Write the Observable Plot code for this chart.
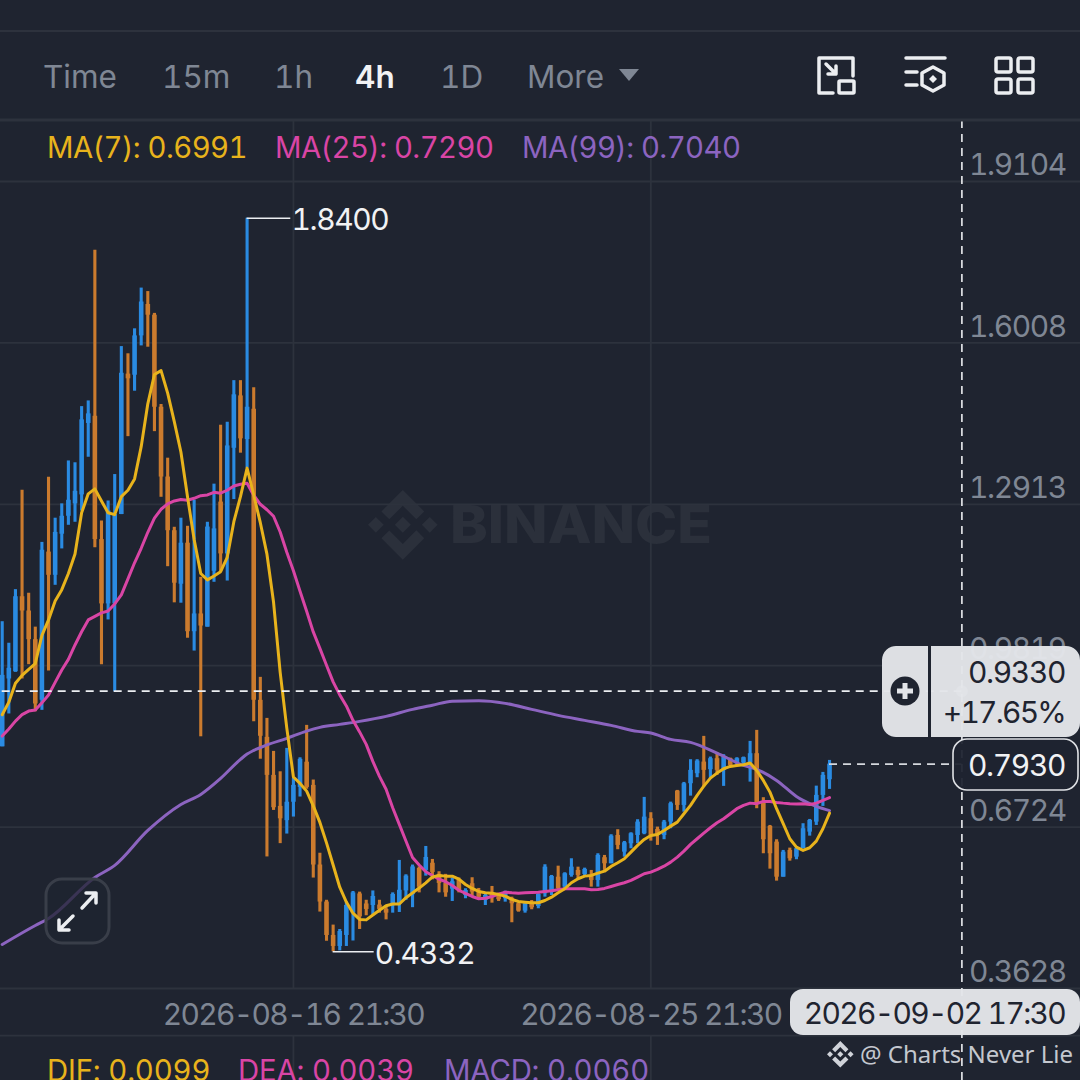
<!DOCTYPE html>
<html><head><meta charset="utf-8">
<script src="https://cdn.jsdelivr.net/npm/d3@7"></script>
<script src="https://cdn.jsdelivr.net/npm/@observablehq/plot@0.6"></script>
<style>
html,body{margin:0;padding:0;background:#1f2430;overflow:hidden}
#stage{position:relative;width:1080px;height:1080px;overflow:hidden;font-family:Inter,sans-serif}
#back,#chart,#front{position:absolute;left:0;top:0}
#chart svg{background:transparent;display:block}
text{font-family:Inter,sans-serif;font-variant-numeric:tabular-nums}
.ytick text{letter-spacing:-1.4px}
.xtick text{letter-spacing:-1.7px}
.hilabel text{letter-spacing:-1.4px}
.lolabel text{letter-spacing:-.9px}
</style></head><body>
<div id="stage">
<svg id="back" width="1080" height="1080">
 <defs><g id="bnb">
  <polygon points="38.73 53.2 63.3 28.64 87.88 53.22 102.18 38.93 63.3 0 24.43 38.9"/>
  <polygon points="0 63.3 14.3 49 28.6 63.3 14.3 77.6"/>
  <polygon points="38.73 73.41 63.3 97.97 87.88 73.39 102.18 87.69 63.3 126.61 24.43 87.71"/>
  <polygon points="97.99 63.3 112.3 49 126.6 63.3 112.3 77.6"/>
  <polygon points="77.83 63.3 63.3 48.77 48.79 63.3 63.3 77.83"/>
 </g></defs>
 <use href="#bnb" fill="#2b303b" transform="translate(368,490) scale(.55)"/>
 <text x="450" y="543" font-size="52" font-weight="800" fill="#2b303b" textLength="262" lengthAdjust="spacingAndGlyphs">BINANCE</text>
</svg>
<div id="chart"></div>
<svg id="front" width="1080" height="1080">
 <rect x="0" y="0" width="1080" height="120" fill="#1f2430"/>
 <line x1="0" x2="1080" y1="31" y2="31" stroke="#2d323d" stroke-width="2"/>
 <line x1="0" x2="1080" y1="120" y2="120" stroke="#2d323d" stroke-width="3"/>
 <g font-size="31.5" fill="#7f8794">
  <text x="43" y="88">Time</text><text x="162" y="88">15m</text><text x="274" y="88">1h</text>
  <text x="355" y="88" fill="#f1f2f4" font-weight="600">4h</text><text x="440" y="88">1D</text><text x="527" y="88">More</text>
 </g>
 <polygon points="619,69 639,69 629,81" fill="#7f8794"/>
 <g fill="none" stroke="#eceef1" stroke-width="3.5" stroke-linecap="round" stroke-linejoin="round">
  <path d="M833 93H819V58H853V76"/><rect x="839" y="81" width="15" height="12" rx="1"/>
  <path d="M826 64L836 74M836 66V74H828"/>
  <path d="M906 58H945M906 72H917M906 85H917"/><path d="M933 67L944 73V85L933 91L922 85V73Z"/>
  <rect x="996" y="58" width="15" height="14" rx="2"/><rect x="1018" y="58" width="15" height="14" rx="2"/>
  <rect x="996" y="79" width="15" height="14" rx="2"/><rect x="1018" y="79" width="15" height="14" rx="2"/>
 </g>
 <polygon points="933,75 937,79 933,83 929,79" fill="#eceef1"/>
 <g font-size="29.3">
  <g style="letter-spacing:-.55px">
  <text x="47" y="158" fill="#e8b31c">MA(7): 0.6991</text>
  <text x="275" y="158" fill="#d945a5">MA(25): 0.7290</text>
  <text x="522" y="158" fill="#8c64c0">MA(99): 0.7040</text>
  </g>
  <g style="letter-spacing:-.15px">
  <text x="47" y="1081" fill="#e8b31c">DIF: 0.0099</text>
  <text x="238" y="1081" fill="#d945a5">DEA: 0.0039</text>
  <text x="444" y="1081" fill="#8c64c0">MACD: 0.0060</text>
  </g>
 </g>
 <rect x="46" y="879" width="63" height="64" rx="16" fill="#1f2430" fill-opacity=".75" stroke="#393e49" stroke-width="3"/>
 <g fill="none" stroke="#eceef1" stroke-width="3.5" stroke-linecap="round" stroke-linejoin="round">
  <path d="M82 908L96 893M86 893H96V903"/><path d="M73 916L59 930M59 920V930H69"/>
 </g>
 <path d="M897 646H1066A14 14 0 0 1 1080 660V723A14 14 0 0 1 1066 737H897A14 14 0 0 1 882 723V660A14 14 0 0 1 897 646Z" fill="#e3e5e9" fill-opacity=".97"/>
 <rect x="928" y="646" width="3" height="91" fill="#1f2430"/>
 <circle cx="905" cy="691" r="14.5" fill="#1f2430"/>
 <path d="M905 683V699M897 691H913" stroke="#e3e5e9" stroke-width="5"/>
 <g font-size="30" fill="#1f2430" text-anchor="end">
  <text x="1065" y="683" style="letter-spacing:-1.4px">0.9330</text><text x="1065" y="723" style="letter-spacing:-1.8px">+17.65%</text>
 </g>
 <rect x="953" y="739" width="125" height="51" rx="14" fill="#1f2430" fill-opacity=".95" stroke="#dfe1e5" stroke-width="1.6"/>
 <text x="1065" y="776" font-size="30" fill="#f1f2f4" text-anchor="end" style="letter-spacing:-1.4px">0.7930</text>
 <rect x="790" y="989" width="290" height="46" rx="13" fill="#e3e5e9" fill-opacity=".97"/>
 <text x="1065" y="1024" font-size="30" fill="#1f2430" text-anchor="end" style="letter-spacing:-1.7px">2026-09-02 17:30</text>
 <use href="#bnb" fill="#d0d3d9" transform="translate(827,1041) scale(.21)"/>
 <text x="860" y="1063" font-size="24" fill="#c4c8cf" style="font-family:'Noto Sans'">@ Charts Never Lie</text>
</svg>
</div>
<script>
const open_ = [.8263,.9564,.9702,1.1141,1.0867,1.0318,.9154,1.1997,1.1552,1.2340,1.2684,1.2922,1.3094,1.4464,1.4602,1.2237,1.1003,1.1003,1.2716,1.5410,1.5389,1.6143,1.6745,1.6540,1.4775,1.3436,1.2407,1.1381,1.2168,1.0470,1.0811,1.0558,1.1629,1.2956,1.1962,1.3988,1.4992,1.4155,1.4737,.9154,.8444,.7715,.7120,.6847,.7200,.7484,.7968,.7523,.5996,.5286,.4645,.4434,.4645,.5073,.5441,.5249,.5220,.5228,.5144,.5215,.5249,.5499,.5428,.5930,.5892,.6030,.5817,.5643,.5533,.5712,.5412,.5637,.5476,.5316,.5456,.5393,.5349,.5349,.5253,.5111,.5253,.5201,.5445,.5476,.5763,.5572,.5796,.5892,.5815,.5796,.5700,.6136,.6020,.6563,.6243,.6404,.6563,.6596,.6884,.6679,.6563,.6819,.7413,.7139,.7555,.7747,.7970,.7824,.8035,.7811,.8035,.7939,.7951,.7951,.8131,.7202,.6736,.6435,.5763,.6276,.6147,.6308,.6627,.6819,.7331,.7632];
const close_ = [.9633,.9769,1.1141,1.0867,1.0318,.9084,1.2031,1.1552,1.2375,1.2684,1.2991,1.3163,1.4533,1.4648,1.2237,1.1003,1.2785,1.2716,1.5429,1.5320,1.6143,1.6793,1.6540,1.4775,1.3436,1.2407,1.1400,1.2168,1.0470,1.0811,1.0579,1.2477,1.2442,1.1962,1.4033,1.5013,1.4169,1.4775,.9154,.8465,.7715,.7095,.6882,.7200,.7523,.8022,.7484,.5996,.5286,.4645,.4434,.4722,.5220,.5462,.5002,.5144,.5393,.5144,.5073,.5431,.5512,.5783,.5959,.5570,.6141,.5854,.5643,.5462,.5675,.5499,.5508,.5476,.5380,.5412,.5393,.5330,.5476,.5253,.5111,.5253,.5176,.5431,.5955,.5777,.5541,.5829,.5955,.5796,.5911,.5700,.6180,.6020,.6550,.6372,.6423,.6596,.6819,.6915,.6563,.6563,.6819,.7172,.7139,.7555,.7811,.7989,.7811,.8035,.7811,.8066,.7906,.8035,.8054,.8131,.7172,.6481,.6212,.5763,.6243,.6116,.6308,.6692,.6851,.7331,.7715,.7930];
const high_ = [1.0662,1.0249,1.1277,1.3183,1.1208,1.0558,1.2183,1.3430,1.2647,1.2922,1.3745,1.3710,1.4787,1.4896,1.7787,1.2594,1.2977,1.3484,1.5938,1.5800,1.6279,1.7060,1.6993,1.6575,1.4827,1.3798,1.2473,1.2647,1.2492,1.2991,1.1513,1.2569,1.3300,1.4430,1.4487,1.5285,1.5285,1.8400,1.5149,.9595,.8808,.8175,.7784,.8233,.7663,.8052,.8674,.7626,.6222,.5320,.4844,.4760,.5286,.5489,.5476,.5320,.5499,.5320,.5220,.5462,.6084,.5809,.5996,.5959,.6352,.6103,.5867,.5817,.5746,.5746,.5541,.5752,.5547,.5445,.5585,.5456,.5495,.5380,.5265,.5284,.5316,.5445,.6001,.5796,.5974,.5848,.6116,.5955,.5936,.5892,.6212,.6180,.6577,.6673,.6448,.6615,.6865,.7293,.6999,.6723,.6851,.7202,.7427,.7580,.8016,.8016,.8463,.8066,.8142,.8112,.8046,.8054,.8066,.8367,.8578,.7287,.6755,.6481,.6276,.6320,.6352,.6788,.6870,.7509,.7772,.8002];
const low_ = [.8263,.8893,.9691,.9564,.9838,.8935,.8962,.9716,1.1360,1.2058,1.2511,1.2569,1.2785,1.3816,1.2079,.9838,1.0696,.9319,1.2716,1.4211,1.5082,1.5951,1.5926,1.4307,1.3048,1.1717,1.1024,1.1017,1.0345,1.0099,.8455,1.0558,1.1418,1.1621,1.1442,1.3004,1.3894,1.3605,.8743,.8025,.6151,.7043,.6406,.6590,.6916,.7300,.7450,.5746,.5094,.4534,.4332,.4350,.4434,.4539,.4760,.5023,.5036,.5073,.4944,.5073,.5086,.5320,.5178,.5462,.5783,.5712,.5462,.5378,.5297,.5462,.5349,.5380,.5316,.5220,.5265,.5297,.5284,.4889,.5092,.5073,.5138,.5157,.5380,.5412,.5508,.5508,.5763,.5733,.5763,.5572,.5572,.5892,.6020,.6289,.6147,.6308,.6404,.6577,.6454,.6372,.6481,.6692,.7043,.7010,.7317,.7670,.7490,.7651,.7715,.7504,.7874,.7906,.7906,.7586,.7076,.6212,.5917,.5687,.5763,.6070,.6097,.6308,.6550,.6755,.7120,.7446];
const ma7 = [.8879,.9119,.9482,.9633,.9748,.9860,1.0401,1.0696,1.1059,1.1277,1.1586,1.1962,1.2751,1.3114,1.3210,1.2977,1.2751,1.2716,1.3060,1.3183,1.3401,1.4019,1.4840,1.5402,1.5477,1.5046,1.4499,1.3916,1.3060,1.2237,1.1586,1.1464,1.1538,1.1621,1.1897,1.2580,1.3060,1.3607,1.3092,1.2561,1.1957,1.1034,.9691,.8620,.7684,.7561,.7413,.7131,.6813,.6420,.5996,.5570,.5286,.5073,.4952,.4944,.5036,.5128,.5215,.5249,.5249,.5370,.5462,.5554,.5654,.5767,.5796,.5783,.5783,.5725,.5623,.5547,.5489,.5464,.5456,.5431,.5399,.5336,.5297,.5284,.5272,.5272,.5316,.5380,.5464,.5541,.5656,.5733,.5783,.5796,.5840,.5878,.5969,.6040,.6116,.6243,.6372,.6487,.6563,.6583,.6659,.6742,.6819,.6980,.7139,.7331,.7509,.7663,.7759,.7843,.7887,.7906,.7920,.7951,.7811,.7619,.7394,.7076,.6788,.6500,.6339,.6276,.6327,.6454,.6692,.6991];
const ma25 = [.8469,.8605,.8756,.8879,.8948,.8969,.9106,.9257,.9499,.9737,.9940,1.0216,1.0470,1.0696,1.0765,1.0832,1.0867,1.1003,1.1176,1.1483,1.1792,1.2070,1.2377,1.2647,1.2818,1.2922,1.2977,1.3004,1.2991,1.3029,1.3079,1.3094,1.3144,1.3127,1.3183,1.3265,1.3298,1.3319,1.3087,1.2914,1.2809,1.2684,1.2383,1.1993,1.1638,1.1247,1.0861,1.0466,1.0151,.9827,.9508,.9259,.9046,.8770,.8549,.8309,.7983,.7697,.7450,.7095,.6775,.6456,.6141,.5996,.5867,.5796,.5725,.5675,.5604,.5512,.5451,.5393,.5349,.5360,.5393,.5437,.5476,.5464,.5456,.5464,.5470,.5476,.5489,.5502,.5522,.5541,.5541,.5541,.5541,.5522,.5527,.5547,.5585,.5623,.5656,.5700,.5763,.5829,.5859,.5911,.5974,.6051,.6147,.6262,.6391,.6500,.6608,.6711,.6807,.6884,.6980,.7076,.7139,.7183,.7172,.7216,.7216,.7197,.7183,.7172,.7164,.7172,.7158,.7183,.7235,.7290];
const ma99Index = [0,5,7,14,17,22,27,30,33,36,37,38,40,43,46,48,51,54,58,62,65,68,72,76,80,84,88,92,96,98,101,104,108,112,114,117,120,121,123,125];
const ma99 = [.4472,.4837,.4971,.5758,.5988,.6659,.7158,.7350,.7657,.8022,.8123,.8194,.8300,.8425,.8565,.8636,.8693,.8751,.8847,.8981,.9061,.9138,.9144,.9096,.8981,.8866,.8770,.8674,.8559,.8526,.8405,.8348,.8142,.7906,.7830,.7619,.7312,.7235,.7120,.7040];
const yTicks = [1.9104,1.6008,1.2913,.9819,.6724,.3628];
const xTickIndex = [44,98];
const xTickLabels = ["2026-08-16 21:30","2026-08-25 21:30"];
const crossIndex = 145, crossPrice = .9330, lastPrice = .7930;
const hiPoint = {i:37, label:"1.8400", price:1.84}, loPoint = {i:50, label:"0.4332", price:.4332};

const UP = "#2a8be2", DOWN = "#cb7b2e", GRID = "#2d323d";
const idx = open_.map((_, i) => i);
const colour = i => close_[i] >= open_[i] ? UP : DOWN;

const chart = Plot.plot({
  width: 1080, height: 1080, margin: 0,
  style: {background: "transparent", fontFamily: "Inter, sans-serif"},
  x: {type: "linear", domain: [0, 145], range: [1.7, 961.4], axis: null},
  y: {type: "linear", domain: [.3628, 1.9104], range: [988, 181], axis: null},
  marks: [
    Plot.ruleY([...yTicks, .2726], {stroke: GRID, strokeWidth: 1.8}),
    Plot.ruleX(xTickIndex, {y1: .3628, y2: 2.03, stroke: GRID, strokeWidth: 1.8}),
    Plot.ruleX(xTickIndex, {y1: .2726, y2: .18, stroke: GRID, strokeWidth: 1.8}),
    Plot.text(yTicks, {className: "ytick", x: () => 145, y: d => d, text: d => d.toFixed(4), dx: 104, dy: -16, textAnchor: "end", fontSize: 30, fill: "#7f8794"}),
    Plot.text(xTickIndex, {className: "xtick", x: d => d, y: () => .3103, text: (d, i) => xTickLabels[i], fontSize: 30, fill: "#7f8794"}),
    Plot.ruleX(idx, {x: d => d, y1: i => low_[i], y2: i => high_[i], stroke: colour, strokeWidth: 3.1}),
    Plot.ruleX(idx, {x: d => d, y1: i => open_[i], y2: i => close_[i], stroke: colour, strokeWidth: 4.6}),
    Plot.line(ma99, {x: (d, i) => ma99Index[i], y: d => d, stroke: "#8c64c0", strokeWidth: 3, curve: "monotone-x"}),
    Plot.line(ma25, {x: (d, i) => i, y: d => d, stroke: "#d945a5", strokeWidth: 3}),
    Plot.line(ma7, {x: (d, i) => i, y: d => d, stroke: "#e8b31c", strokeWidth: 3}),
    Plot.ruleY([hiPoint], {x1: d => d.i, x2: () => 43.6, y: d => d.price, stroke: "#eceef1", strokeWidth: 1.6}),
    Plot.text([hiPoint], {className: "hilabel", x: () => 43.7, y: d => d.price, dy: 2, text: d => d.label, textAnchor: "start", fontSize: 30, fill: "#f1f2f4"}),
    Plot.ruleY([loPoint], {x1: d => d.i, x2: () => 56.2, y: d => d.price, stroke: "#eceef1", strokeWidth: 1.6}),
    Plot.text([loPoint], {className: "lolabel", x: () => 56.3, y: d => d.price, dy: 3, text: d => d.label, textAnchor: "start", fontSize: 30, fill: "#f1f2f4"}),
    Plot.ruleY([crossPrice], {x1: 0, x2: 145, stroke: "#eceef1", strokeWidth: 1.6, strokeDasharray: "8,6"}),
    Plot.ruleY([lastPrice], {x1: 125, x2: 145, stroke: "#d5d8dd", strokeWidth: 1.6, strokeDasharray: "8,6"}),
    Plot.ruleX([crossIndex], {y1: .1863, y2: 2.03, stroke: "#eceef1", strokeWidth: 1.6, strokeDasharray: "8,6"}),
    Plot.dot([{i: crossIndex, p: crossPrice}], {x: "i", y: "p", r: 6, fill: "#ffffff", fillOpacity: .5})
  ]
});
document.getElementById("chart").appendChild(chart);
</script>
</body></html>
